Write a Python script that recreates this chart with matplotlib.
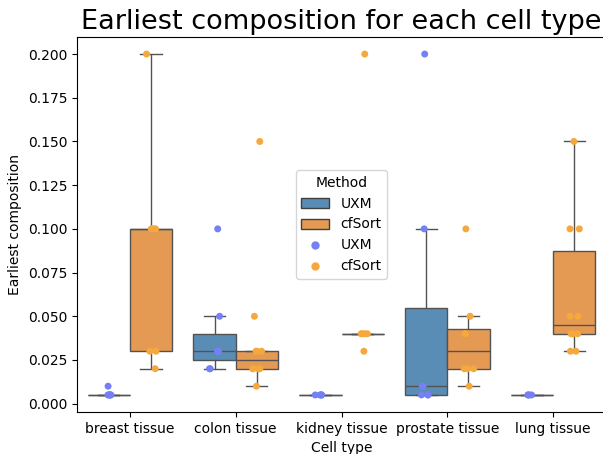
import numpy as np
import pandas as pd
import matplotlib
matplotlib.use("Agg")
import matplotlib.pyplot as plt
import seaborn as sns
from matplotlib.patches import Patch
from matplotlib.lines import Line2D

categories = ["breast tissue", "colon tissue", "kidney tissue", "prostate tissue", "lung tissue"]
methods = ["UXM", "cfSort"]

breast_uxm = [0.005, 0.005, 0.005, 0.005, 0.005, 0.005, 0.01]
breast_cfsort = [0.02, 0.03, 0.03, 0.1, 0.1, 0.1, 0.1, 0.2]
colon_uxm = [0.02, 0.02, 0.03, 0.03, 0.03, 0.05, 0.1]
colon_cfsort = [0.01, 0.02, 0.02, 0.02, 0.02, 0.03, 0.03, 0.03, 0.05, 0.15]
kidney_uxm = [0.005, 0.005, 0.005, 0.005, 0.005]
kidney_cfsort = [0.03, 0.04, 0.04, 0.04, 0.04, 0.2]
prostate_uxm = [0.005, 0.005, 0.005, 0.01, 0.01, 0.1, 0.2]
prostate_cfsort = [0.01, 0.02, 0.02, 0.02, 0.04, 0.04, 0.05, 0.1]
lung_uxm = [0.005, 0.005, 0.005, 0.005]
lung_cfsort = [0.03, 0.03, 0.04, 0.04, 0.04, 0.05, 0.05, 0.1, 0.1, 0.15]

series = {
    ("breast tissue", "UXM"): breast_uxm,
    ("breast tissue", "cfSort"): breast_cfsort,
    ("colon tissue", "UXM"): colon_uxm,
    ("colon tissue", "cfSort"): colon_cfsort,
    ("kidney tissue", "UXM"): kidney_uxm,
    ("kidney tissue", "cfSort"): kidney_cfsort,
    ("prostate tissue", "UXM"): prostate_uxm,
    ("prostate tissue", "cfSort"): prostate_cfsort,
    ("lung tissue", "UXM"): lung_uxm,
    ("lung tissue", "cfSort"): lung_cfsort,
}

rows = []
for (cat, m), vals in series.items():
    for v in vals:
        rows.append({"Cell type": cat, "Method": m, "Earliest composition": v})
df = pd.DataFrame(rows)

box_colors = {"UXM": "#5a8db6", "cfSort": "#e59a54"}
pt_colors = {"UXM": "#7480f4", "cfSort": "#f5a83d"}

W, H = 603, 454
fig = plt.figure(figsize=(W / 100, H / 100), dpi=100)
ax = fig.add_axes([77 / W, 1 - 412 / H, (606 - 77) / W, (412 - 37) / H])

sns.boxplot(data=df, x="Cell type", y="Earliest composition", hue="Method",
            order=categories, hue_order=methods, palette=box_colors,
            saturation=1, showfliers=False, legend=False, ax=ax)
np.random.seed(0)
sns.stripplot(data=df, x="Cell type", y="Earliest composition", hue="Method",
              order=categories, hue_order=methods, palette=pt_colors,
              dodge=True, jitter=True, size=5, legend=False, ax=ax)

ax.set_title("Earliest composition for each cell type", fontsize=19.5)
ax.set_xlabel("Cell type")
ax.set_ylabel("Earliest composition")

handles = [
    Patch(facecolor=box_colors["UXM"], edgecolor="#3f3f3f", label="UXM"),
    Patch(facecolor=box_colors["cfSort"], edgecolor="#3f3f3f", label="cfSort"),
    Line2D([], [], marker="o", linestyle="", color=pt_colors["UXM"], markersize=5, label="UXM"),
    Line2D([], [], marker="o", linestyle="", color=pt_colors["cfSort"], markersize=5, label="cfSort"),
]
ax.legend(handles=handles, title="Method", loc="center")

fig.savefig("out.png", dpi=100)
